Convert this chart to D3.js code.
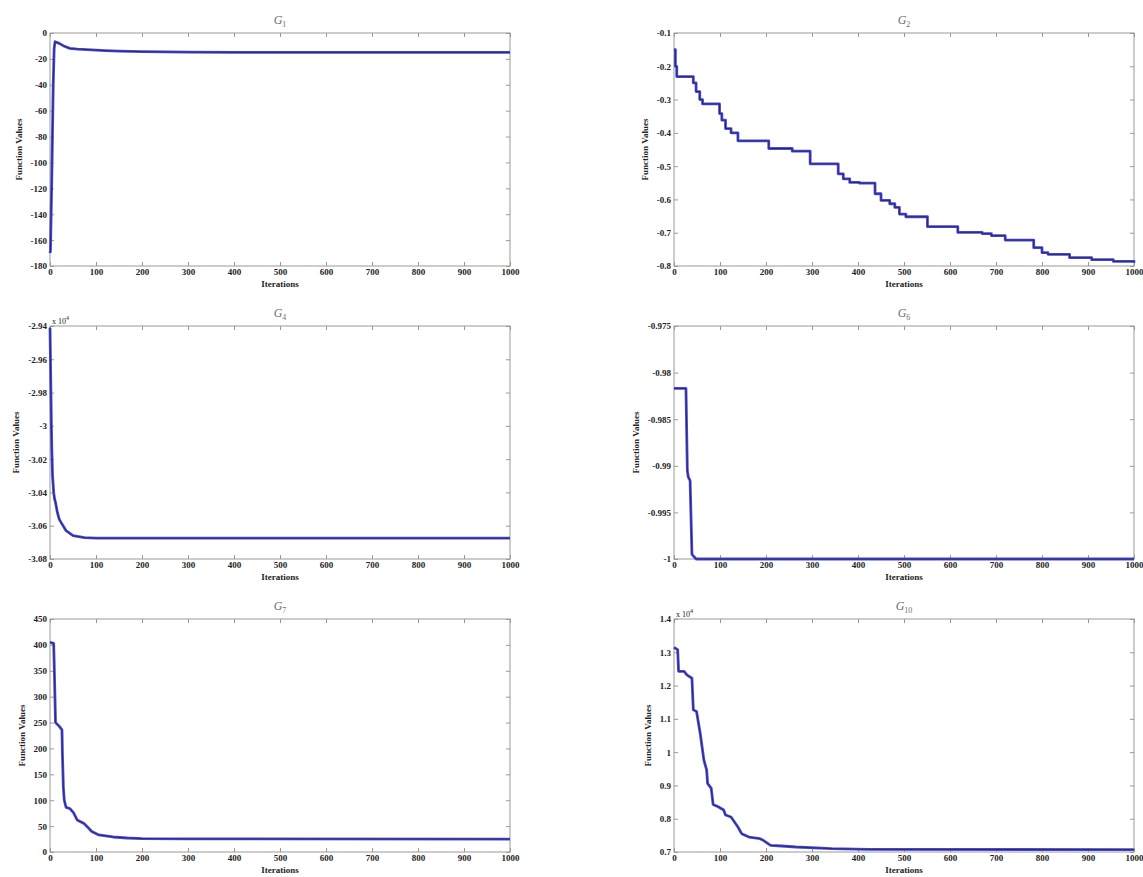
<!DOCTYPE html>
<html>
<head>
<meta charset="utf-8">
<title>Convergence curves</title>
<script src="https://d3js.org/d3.v7.min.js"></script>
<style>
  body { margin: 0; background: #fff; }
  svg { display: block; font-family: "Liberation Serif", "Times New Roman", serif; }
  .tick text { font-size: 9px; font-weight: bold; fill: #222; font-family: "Liberation Serif", serif; }
  .tick line { stroke: #999; }
</style>
</head>
<body>
<script>
// shared x ticks (iterations)
const iterTicks = [0, 100, 200, 300, 400, 500, 600, 700, 800, 900, 1000];

// G1
const g1Iter = [0, 1, 4, 7, 9, 11, 20, 30, 43, 60, 90, 120, 150, 200, 250, 300, 400, 600, 800, 1000];
const g1Val = [-170, -168, -110, -40, -12, -6.7, -8, -10, -11.9, -12.4, -13, -13.6, -14, -14.4, -14.6, -14.8, -14.9, -15, -15, -15];
const g1Ticks = [0, -20, -40, -60, -80, -100, -120, -140, -160, -180];

// G2 (stepped)
const g2Iter = [0, 3, 6, 42, 48, 56, 62, 99, 104, 112, 124, 139, 206, 257, 296, 357, 368, 382, 403, 437, 450, 469, 480, 490, 504, 551, 617, 670, 690, 720, 782, 800, 813, 860, 908, 955, 1000];
const g2Val = [-0.15, -0.2, -0.231, -0.25, -0.276, -0.3, -0.313, -0.342, -0.362, -0.387, -0.4, -0.424, -0.447, -0.455, -0.493, -0.523, -0.538, -0.549, -0.551, -0.583, -0.603, -0.613, -0.624, -0.644, -0.652, -0.682, -0.699, -0.703, -0.709, -0.722, -0.745, -0.76, -0.765, -0.775, -0.781, -0.786, -0.79];
const g2Ticks = [-0.1, -0.2, -0.3, -0.4, -0.5, -0.6, -0.7, -0.8];

// G4 (x 10^4)
const g4Iter = [0, 1, 2, 3, 4, 5.5, 8, 10, 12, 16, 20, 24, 35, 50, 75, 100, 1000];
const g4Val = [-2.941, -2.96, -2.98, -3.0, -3.015, -3.03, -3.04, -3.044, -3.046, -3.052, -3.056, -3.058, -3.063, -3.066, -3.0672, -3.0675, -3.0675];
const g4Ticks = [-2.94, -2.96, -2.98, -3, -3.02, -3.04, -3.06, -3.08];

// G6
const g6Iter = [0, 26, 29, 31, 35, 39, 48, 1000];
const g6Val = [-0.9817, -0.9817, -0.9905, -0.9912, -0.9916, -0.9995, -1, -1];
const g6Ticks = [-0.975, -0.98, -0.985, -0.99, -0.995, -1];

// G7
const g7Iter = [0, 8, 10, 12, 20, 26, 27, 29, 31, 35, 43, 51, 59, 74, 82, 90, 106, 137, 168, 200, 300, 1000];
const g7Val = [405, 403, 330, 250, 243, 236, 190, 126, 100, 86, 84, 76, 62, 55, 48, 40, 33, 29, 27, 26, 25.3, 25];
const g7Ticks = [0, 50, 100, 150, 200, 250, 300, 350, 400, 450];

// G10 (x 10^4)
const g10Iter = [0, 2, 8, 10, 22, 28, 39, 42, 49, 57, 65, 71, 73, 81, 85, 96, 108, 112, 124, 139, 147, 163, 187, 194, 210, 234, 265, 343, 422, 1000];
const g10Val = [1.315, 1.3126, 1.308, 1.243, 1.2426, 1.232, 1.222, 1.127, 1.122, 1.056, 0.976, 0.946, 0.906, 0.891, 0.843, 0.836, 0.826, 0.811, 0.805, 0.775, 0.755, 0.745, 0.74, 0.735, 0.72, 0.718, 0.715, 0.71, 0.708, 0.707];
const g10Ticks = [0.7, 0.8, 0.9, 1, 1.1, 1.2, 1.3, 1.4];

const width = 1143, height = 877;
const cols = [50, 674], rows = [33, 326, 619];
const W = 460, H = 233;

const panels = [
    {sub: '1', iter: g1Iter, val: g1Val, ticks: g1Ticks, col: 0, row: 0, curve: d3.curveLinear},
    {sub: '2', iter: g2Iter, val: g2Val, ticks: g2Ticks, col: 1, row: 0, curve: d3.curveStepAfter},
    {sub: '4', iter: g4Iter, val: g4Val, ticks: g4Ticks, col: 0, row: 1, curve: d3.curveLinear, exp: '4'},
    {sub: '6', iter: g6Iter, val: g6Val, ticks: g6Ticks, col: 1, row: 1, curve: d3.curveLinear},
    {sub: '7', iter: g7Iter, val: g7Val, ticks: g7Ticks, col: 0, row: 2, curve: d3.curveLinear},
    {sub: '10', iter: g10Iter, val: g10Val, ticks: g10Ticks, col: 1, row: 2, curve: d3.curveLinear, exp: '4'}
];

const svg = d3.select('body').append('svg').attr('width', width).attr('height', height);
svg.append('rect').attr('width', width).attr('height', height).attr('fill', '#fff');

// trims trailing zeros like matlab does (-3.00 -> -3)
const fmt = d => String(+d.toFixed(4));

panels.forEach(p => {
    const g = svg.append('g').attr('transform', `translate(${cols[p.col]},${rows[p.row]})`);
    const x = d3.scaleLinear().domain([0, 1000]).range([0, W]);
    const y = d3.scaleLinear().domain(d3.extent(p.ticks)).range([H, 0]);

    g.append('g').attr('transform', `translate(0,${H})`)
        .call(d3.axisBottom(x).tickValues(iterTicks).tickSizeInner(-4).tickSizeOuter(0).tickPadding(3).tickFormat(d3.format('d')));
    g.append('g')
        .call(d3.axisTop(x).tickValues(iterTicks).tickSizeInner(-4).tickSizeOuter(0).tickFormat(''));
    const yAxis = g.append('g')
        .call(d3.axisLeft(y).tickValues(p.ticks).tickSizeInner(-4).tickSizeOuter(0).tickPadding(3).tickFormat(fmt));
    g.append('g').attr('transform', `translate(${W},0)`)
        .call(d3.axisRight(y).tickValues(p.ticks).tickSizeInner(-4).tickSizeOuter(0).tickFormat(''));
    g.selectAll('.domain').remove();

    g.append('rect').attr('width', W).attr('height', H)
        .attr('fill', 'none').attr('stroke', '#999').attr('stroke-width', 1);

    const pts = p.iter.map((it, i) => [it, p.val[i]]);
    const line = d3.line().x(d => x(d[0])).y(d => y(d[1])).curve(p.curve);
    g.append('path').datum(pts).attr('d', line)
        .attr('fill', 'none').attr('stroke', '#4a4ad6').attr('stroke-width', 2.8)
        .attr('stroke-linejoin', 'round');
    g.append('path').datum(pts).attr('d', line)
        .attr('fill', 'none').attr('stroke', '#25256a').attr('stroke-width', 0.9)
        .attr('stroke-linejoin', 'round');

    // title
    const t = g.append('text').attr('x', W / 2).attr('y', -9)
        .attr('text-anchor', 'middle').attr('fill', '#6e6e6e').attr('font-size', 12);
    t.append('tspan').attr('font-style', 'italic').text('G');
    t.append('tspan').attr('font-size', 8).attr('dy', 3).text(p.sub);

    // axis labels
    g.append('text').attr('x', W / 2).attr('y', H + 21)
        .attr('text-anchor', 'middle').attr('font-size', 9).attr('font-weight', 'bold').attr('fill', '#222')
        .text('Iterations');
    const bb = yAxis.node().getBBox();
    g.append('text')
        .attr('transform', `translate(${bb.x - 9},${H / 2}) rotate(-90)`)
        .attr('text-anchor', 'middle').attr('font-size', 9).attr('font-weight', 'bold').attr('fill', '#222')
        .text('Function Values');

    if (p.exp) {
        const e = g.append('text').attr('x', 2).attr('y', -2)
            .attr('font-size', 8).attr('fill', '#222');
        e.append('tspan').text('x 10');
        e.append('tspan').attr('font-size', 6).attr('dy', -4).text(p.exp);
    }
});
</script>
</body>
</html>
